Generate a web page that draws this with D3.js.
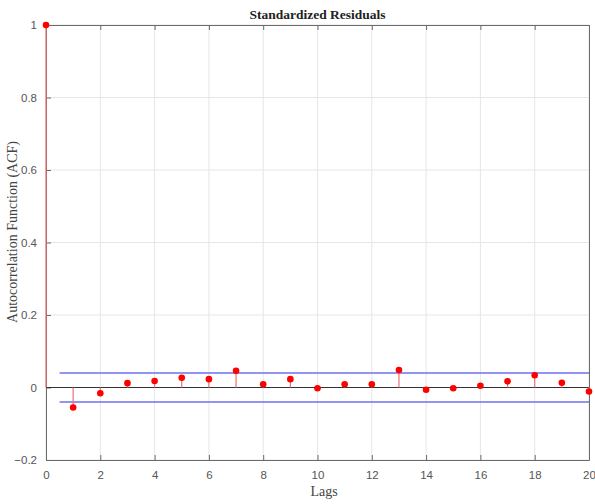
<!DOCTYPE html>
<html>
<head>
<meta charset="utf-8">
<script src="https://cdn.jsdelivr.net/npm/d3@7"></script>
<style>
  body { margin: 0; background: #fff; }
  .tick text { font-family: "Liberation Sans", Arial, sans-serif; font-size: 11.5px; fill: #555; }
</style>
</head>
<body>
<div id="chart"></div>
<script>
// Data
//-------------------------------------------------------
var lags = [0, 1, 2, 3, 4, 5, 6, 7, 8, 9, 10, 11, 12, 13, 14, 15, 16, 17, 18, 19, 20];
var acf = [1, -0.055, -0.016, 0.012, 0.018, 0.027, 0.023, 0.046, 0.009, 0.023,
           -0.002, 0.009, 0.009, 0.048, -0.006, -0.002, 0.005, 0.017, 0.034, 0.013, -0.011];
var upperBound = 0.04;
var lowerBound = -0.04;
var boundStart = 0.5;
var xTicks = [0, 2, 4, 6, 8, 10, 12, 14, 16, 18, 20];
var yTicks = [-0.2, 0, 0.2, 0.4, 0.6, 0.8, 1];

// SVG
//-------------------------------------------------------
var svgWidth = 595;
var svgHeight = 504;
var margin = { top: 25, right: 6, bottom: 44, left: 46 };
var chartWidth = 589 - margin.left;
var chartHeight = 460 - margin.top;

var svg = d3.select("#chart")
    .append("svg")
    .attr("width", svgWidth)
    .attr("height", svgHeight);

var chartGroup = svg.append("g")
    .attr("transform", `translate(${margin.left}, ${margin.top})`);

var x = d3.scaleLinear().domain([0, 20]).range([0, chartWidth]);
var y = d3.scaleLinear().domain([-0.2, 1]).range([chartHeight, 0]);

// Grid
chartGroup.selectAll(".vgrid").data(xTicks).enter()
    .append("line")
    .attr("x1", d => x(d)).attr("x2", d => x(d))
    .attr("y1", 0).attr("y2", chartHeight)
    .attr("stroke", "#e6e6e6").attr("stroke-width", 1);

chartGroup.selectAll(".hgrid").data(yTicks).enter()
    .append("line")
    .attr("x1", 0).attr("x2", chartWidth)
    .attr("y1", d => y(d)).attr("y2", d => y(d))
    .attr("stroke", "#e6e6e6").attr("stroke-width", 1);

// Axes (MATLAB style: ticks inward, box)
var axisColor = "#6b6b6b";
function styleAxis(g) {
    g.select(".domain").attr("stroke", axisColor);
    g.selectAll(".tick line").attr("stroke", axisColor);
}

chartGroup.append("g")
    .attr("transform", `translate(0, ${chartHeight})`)
    .call(d3.axisBottom(x).tickValues(xTicks).tickSizeInner(-5).tickSizeOuter(0).tickPadding(11))
    .call(styleAxis);

chartGroup.append("g")
    .call(d3.axisTop(x).tickValues(xTicks).tickSizeInner(-5).tickSizeOuter(0).tickFormat(""))
    .call(styleAxis);

chartGroup.append("g")
    .call(d3.axisLeft(y).tickValues(yTicks).tickSizeInner(-5).tickSizeOuter(0).tickPadding(9)
        .tickFormat(d => d3.format("")(+d.toFixed(1))))
    .call(styleAxis);

chartGroup.append("g")
    .attr("transform", `translate(${chartWidth}, 0)`)
    .call(d3.axisRight(y).tickValues(yTicks).tickSizeInner(0).tickSizeOuter(0).tickFormat(""))
    .call(styleAxis);

// Zero baseline
chartGroup.append("line")
    .attr("x1", 0).attr("x2", chartWidth)
    .attr("y1", y(0)).attr("y2", y(0))
    .attr("stroke", "#333").attr("stroke-width", 1.2);

// Confidence bounds
[upperBound, lowerBound].forEach(function(b) {
    chartGroup.append("line")
        .attr("x1", x(boundStart)).attr("x2", x(20))
        .attr("y1", y(b)).attr("y2", y(b))
        .attr("stroke", "#6f6ff5").attr("stroke-width", 1.3);
});

// Stems
chartGroup.selectAll(".stem").data(lags).enter()
    .append("line")
    .attr("x1", d => x(d)).attr("x2", d => x(d))
    .attr("y1", y(0)).attr("y2", (d, i) => y(acf[i]))
    .attr("stroke", "#f07070").attr("stroke-width", 1.2);

// Markers
chartGroup.selectAll(".dot").data(lags).enter()
    .append("circle")
    .attr("cx", d => x(d))
    .attr("cy", (d, i) => y(acf[i]))
    .attr("r", 3.3)
    .attr("fill", "#ff0000");

// Labels
svg.append("text")
    .attr("x", margin.left + chartWidth / 2).attr("y", 19)
    .attr("text-anchor", "middle")
    .attr("font-family", "Liberation Serif, Times New Roman, serif")
    .attr("font-weight", "bold").attr("font-size", 13.5)
    .attr("fill", "#222")
    .text("Standardized Residuals");

svg.append("text")
    .attr("x", 324).attr("y", 496)
    .attr("text-anchor", "middle")
    .attr("font-family", "Liberation Serif, Times New Roman, serif")
    .attr("font-size", 14).attr("fill", "#444")
    .text("Lags");

svg.append("text")
    .attr("transform", "translate(17, 232) rotate(-90)")
    .attr("text-anchor", "middle")
    .attr("font-family", "Liberation Serif, Times New Roman, serif")
    .attr("font-size", 14).attr("fill", "#444")
    .text("Autocorrelation Function (ACF)");
</script>
</body>
</html>
